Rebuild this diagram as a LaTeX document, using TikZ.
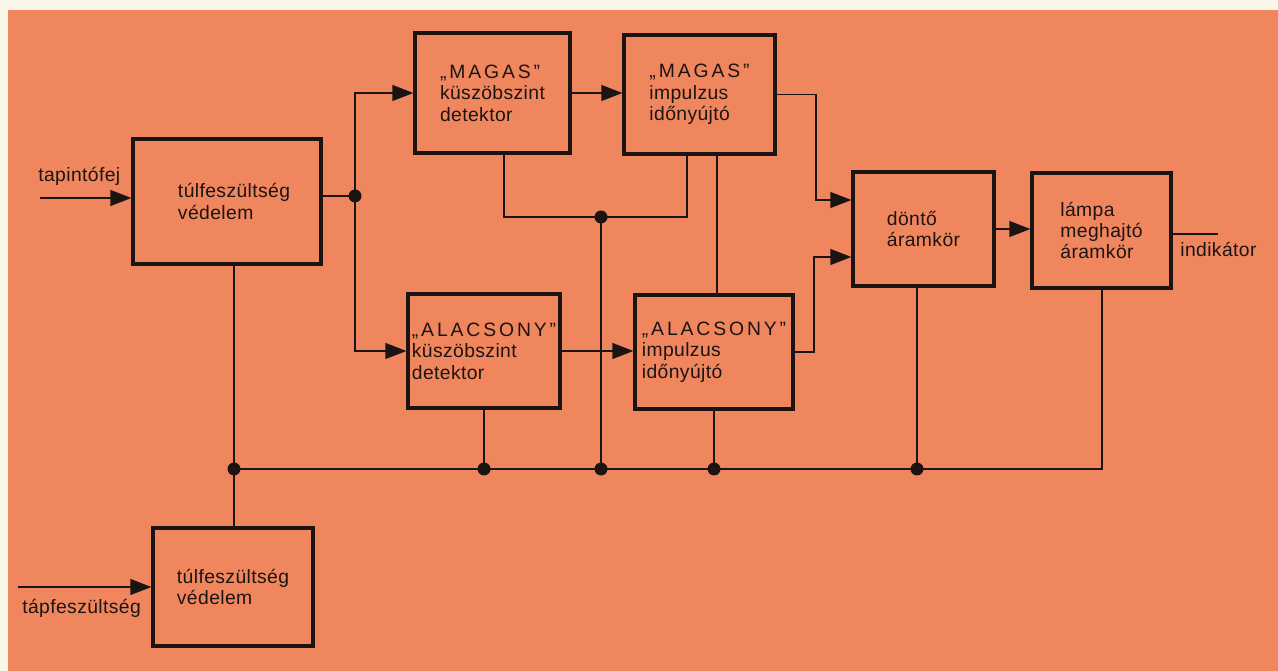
\documentclass[tikz,border=0pt]{standalone}
\usepackage{fontspec}
\setmainfont{Liberation Sans}[LetterSpace=2]
\usetikzlibrary{arrows.meta}
\definecolor{bgorange}{RGB}{240,134,94}
\definecolor{cream}{RGB}{250,247,234}
\definecolor{ink}{RGB}{28,20,18}
\newcommand{\capsq}[1]{{\addfontfeature{LetterSpace=15}#1}}
\begin{document}
\begin{tikzpicture}[x=0.02cm,y=-0.02cm,
  box/.style={draw=ink,line width=1.8pt,align=left,inner sep=0pt,font=\fontsize{11}{12.2}\selectfont,text=ink},
  wire/.style={draw=ink,line width=1pt},
  arr/.style={wire,-{Triangle[length=12pt,width=9pt]}},
  lbl/.style={font=\fontsize{11}{13}\selectfont,text=ink,inner sep=0pt}]
\useasboundingbox (0,0) rectangle (1278,671);
\fill[cream] (0,0) rectangle (1278,671);
\fill[bgorange] (8,10) rectangle (1278,671);

\node[box,minimum width=3.76cm,minimum height=2.5cm] (A) at (227,201.5) {\hspace*{8pt}túlfeszültség\\\hspace*{8pt}védelem};
\node[box,minimum width=3.1cm,minimum height=2.4cm] (B) at (492.5,93) {\capsq{„MAGAS”}\\küszöbszint\\detektor};
\node[box,minimum width=3.02cm,minimum height=2.38cm] (C) at (699.5,94.5) {\capsq{„MAGAS”}\\impulzus\\időnyújtó};
\node[box,minimum width=3.04cm,minimum height=2.28cm] (D) at (484,351) {\capsq{„ALACSONY”}\\küszöbszint\\detektor};
\node[box,minimum width=3.16cm,minimum height=2.28cm] (E) at (714,352) {\capsq{„ALACSONY”}\\impulzus\\időnyújtó};
\node[box,minimum width=2.82cm,minimum height=2.28cm] (F) at (923.5,229) {döntő\\áramkör};
\node[box,minimum width=2.78cm,minimum height=2.3cm] (G) at (1101.5,230.5) {lámpa\\meghajtó\\áramkör};
\node[box,minimum width=3.2cm,minimum height=2.36cm] (H) at (233,587) {túlfeszültség\\védelem};

\coordinate (tin) at (40,198);
\coordinate (J1) at (355,196);
\coordinate (J2) at (601,217);
\coordinate (bL) at (504,217);
\coordinate (cR) at (687,217);
\coordinate (cE) at (717,0);
\coordinate (eK) at (814,257);
\coordinate (cK) at (816,200);
\coordinate (gout) at (1218,234);
\coordinate (J3) at (234,469);
\coordinate (bD) at (484,469);
\coordinate (bJ) at (601,469);
\coordinate (bE) at (714,469);
\coordinate (bF) at (917,469);
\coordinate (bG) at (1102,469);
\coordinate (hin) at (18,587);

\draw[arr] (tin) -- (tin -| A.west);
\draw[wire] (A.east |- J1) -- (J1);
\draw[arr] (J1) |- (B.west);
\draw[arr] (J1) |- (D.west);
\draw[arr] (B.east) -- (B.east -| C.west);
\draw[wire] (bL |- B.south) -- (bL) -- (cR) -- (cR |- C.south);
\draw[wire] (J2) -- (bJ);
\draw[wire] (cE |- C.south) -- (cE |- E.north);
\draw[arr] (D.east) -- (D.east -| E.west);
\draw[arr] (E.east) -| (eK) -- (eK -| F.west);
\draw[arr] (C.east) -| (cK) -- (cK -| F.west);
\draw[arr] (F.east) -- (F.east -| G.west);
\draw[wire] (gout -| G.east) -- (gout);
\draw[wire] (A.south -| J3) -- (H.north -| J3);
\draw[wire] (J3) -- (bG) -- (bG |- G.south);
\draw[wire] (D.south) -- (bD);
\draw[wire] (E.south) -- (bE);
\draw[wire] (bF |- F.south) -- (bF);
\draw[arr] (hin) -- (hin -| H.west);

\foreach \p in {J1,J2,J3,bD,bJ,bE,bF} \fill[ink] (\p) circle[radius=0.13cm];

\node[lbl,anchor=base west] (lt) at (38,182) {tapintófej};
\node[lbl,anchor=base west] (lp) at (22,614) {tápfeszültség};
\node[lbl,anchor=base west] (li) at (1180,257) {indikátor};
\end{tikzpicture}
\end{document}
